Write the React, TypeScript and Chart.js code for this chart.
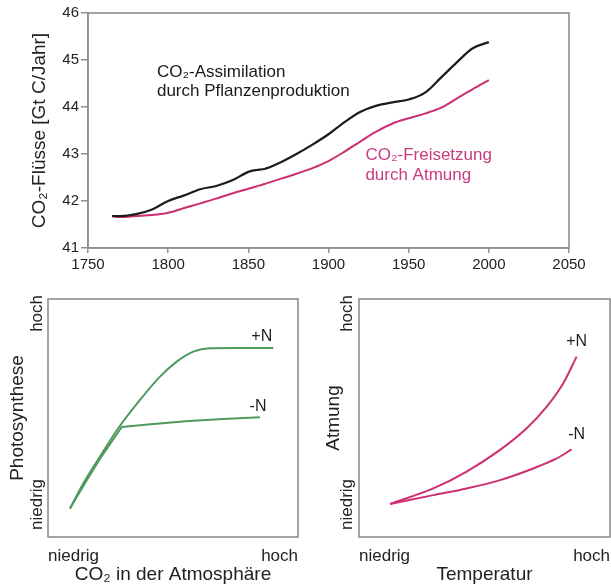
import React, { useEffect, useRef } from "react";
import { Chart, registerables } from "chart.js";
Chart.register(...registerables);

const FONT = "'Liberation Sans', Arial, Helvetica, sans-serif";
const AXIS = "#8f8f8f";
const INK = "#222222";
const BLACK_LINE = "#1c1c1c";
const PINK = "#cc2f72";
const PINK_TEXT = "#c93d80";
const GREEN = "#4e9a5e";

// ---- top chart: CO2 fluxes ----
const years = [1765, 1770, 1780, 1790, 1800, 1810, 1820, 1830, 1840, 1850, 1855, 1860, 1870, 1880, 1890, 1900, 1910, 1920, 1930, 1940, 1950, 1960, 1970, 1980, 1990, 2000];
const assimilation = [41.68, 41.68, 41.72, 41.82, 42.0, 42.12, 42.25, 42.32, 42.44, 42.62, 42.66, 42.68, 42.82, 43.0, 43.2, 43.42, 43.68, 43.9, 44.03, 44.1, 44.16, 44.3, 44.62, 44.95, 45.25, 45.38];
const respiration = [41.68, 41.66, 41.68, 41.7, 41.75, 41.85, 41.95, 42.05, 42.16, 42.26, 42.31, 42.36, 42.47, 42.58, 42.7, 42.85, 43.05, 43.27, 43.48, 43.65, 43.76, 43.86, 43.98, 44.18, 44.38, 44.57];
const yearTicks = [1750, 1800, 1850, 1900, 1950, 2000, 2050];
const fluxTicks = [41, 42, 43, 44, 45, 46];

// ---- bottom left: photosynthesis vs CO2 ----
const photoPlusNX = [8.8, 14.1, 20.8, 28.1, 36.8, 44.8, 51.5, 58.1, 64.8, 74.1, 90.1];
const photoPlusNY = [12.0, 22.5, 33.8, 45.7, 57.6, 67.4, 73.7, 77.9, 79.3, 79.4, 79.4];
const photoMinusNX = [8.8, 15.0, 21.5, 29.5, 40.0, 55.0, 70.0, 84.8];
const photoMinusNY = [12.0, 23.0, 34.0, 46.2, 47.3, 48.6, 49.6, 50.3];

// ---- bottom right: respiration vs temperature ----
const respPlusNX = [12.4, 29.6, 42.9, 56.2, 66.8, 74.8, 81.4, 86.7];
const respPlusNY = [13.9, 20.4, 27.5, 36.6, 45.7, 54.8, 64.6, 75.8];
const respMinusNX = [12.4, 29.6, 42.9, 56.2, 69.4, 78.8, 84.7];
const respMinusNY = [13.9, 17.6, 20.4, 23.9, 28.8, 33.0, 36.8];

const levelTicks = [0, 100];
const levelLabels = ["niedrig", "hoch"];

const pts = (xs: number[], ys: number[]) => xs.map((x, i) => ({ x, y: ys[i] }));

type Note = {
  text: string;
  x?: number;
  y: number;
  px?: number;
  dy?: number;
  color?: string;
  size?: number;
  align?: CanvasTextAlign;
  rot?: number;
};

const framePlugin = {
  id: "frame",
  beforeDatasetsDraw(chart: any) {
    const { ctx, chartArea } = chart;
    ctx.save();
    ctx.strokeStyle = AXIS;
    ctx.lineWidth = 1.6;
    ctx.strokeRect(chartArea.left, chartArea.top, chartArea.right - chartArea.left, chartArea.bottom - chartArea.top);
    ctx.restore();
  },
};

const makeNotes = (items: Note[]) => ({
  id: "notes",
  afterDatasetsDraw(chart: any) {
    const { ctx, chartArea } = chart;
    const xs = chart.scales.x;
    const ys = chart.scales.y;
    items.forEach((n) => {
      const px = n.px !== undefined ? chartArea.left + n.px : xs.getPixelForValue(n.x);
      const py = ys.getPixelForValue(n.y) + (n.dy || 0);
      ctx.save();
      ctx.translate(px, py);
      if (n.rot) ctx.rotate((n.rot * Math.PI) / 180);
      ctx.font = `${n.size || 16}px ${FONT}`;
      ctx.fillStyle = n.color || INK;
      ctx.textAlign = n.align || "left";
      ctx.textBaseline = "middle";
      ctx.fillText(n.text, 0, 0);
      ctx.restore();
    });
  },
});

function useChart(build: (c: HTMLCanvasElement) => Chart) {
  const ref = useRef<HTMLCanvasElement | null>(null);
  useEffect(() => {
    if (!ref.current) return;
    const chart = build(ref.current);
    return () => chart.destroy();
  }, []);
  return ref;
}

function FluxChart() {
  const ref = useChart(
    (c) =>
      new Chart(c, {
        type: "line",
        data: {
          datasets: [
            { data: pts(years, assimilation), borderColor: BLACK_LINE, borderWidth: 2.2, pointRadius: 0, cubicInterpolationMode: "monotone" },
            { data: pts(years, respiration), borderColor: PINK, borderWidth: 2, pointRadius: 0, cubicInterpolationMode: "monotone" },
          ],
        },
        options: {
          animation: false,
          responsive: false,
          layout: { padding: { top: 13, right: 42, left: 0, bottom: 0 } },
          plugins: { legend: { display: false }, tooltip: { enabled: false } },
          scales: {
            x: {
              type: "linear",
              min: 1750,
              max: 2050,
              afterBuildTicks: (s: any) => {
                s.ticks = yearTicks.map((v) => ({ value: v }));
              },
              afterFit: (s: any) => {
                s.height = 32;
              },
              ticks: { callback: (v: any) => String(v), font: { family: FONT, size: 15 }, color: INK, padding: 3, maxRotation: 0 },
              grid: { drawOnChartArea: false, drawTicks: true, tickLength: 5, color: AXIS, lineWidth: 1.5 },
              border: { display: true, color: AXIS, width: 1.6 },
            },
            y: {
              type: "linear",
              min: 41,
              max: 46,
              afterBuildTicks: (s: any) => {
                s.ticks = fluxTicks.map((v) => ({ value: v }));
              },
              afterFit: (s: any) => {
                s.width = 88;
              },
              ticks: { callback: (v: any) => String(v), font: { family: FONT, size: 15 }, color: INK, padding: 2 },
              grid: { drawOnChartArea: false, drawTicks: true, tickLength: 7, color: AXIS, lineWidth: 1.5 },
              border: { display: true, color: AXIS, width: 1.6 },
              title: {
                display: true,
                text: "CO₂-Flüsse [Gt C/Jahr]",
                font: { family: FONT, size: 19 },
                color: INK,
                padding: { top: 28, bottom: 0 },
              },
            },
          },
        },
        plugins: [
          framePlugin,
          makeNotes([
            { text: "CO₂-Assimilation", x: 1793, y: 44.74, size: 17, color: "#1a1a1a" },
            { text: "durch Pflanzenproduktion", x: 1793, y: 44.34, size: 17, color: "#1a1a1a" },
            { text: "CO₂-Freisetzung", x: 1923, y: 42.98, size: 17, color: PINK_TEXT },
            { text: "durch Atmung", x: 1923, y: 42.55, size: 17, color: PINK_TEXT },
          ]),
        ],
      } as any)
  );
  return <canvas ref={ref} width={611} height={280} style={{ position: "absolute", left: 0, top: 0 }} />;
}

type LevelProps = {
  left: number;
  width: number;
  yWidth: number;
  padRight: number;
  plus: { x: number; y: number }[];
  minus: { x: number; y: number }[];
  minusTension: number;
  color: string;
  xTitle: string;
  yTitle: string;
  yTitlePad: number;
  labelPx: number;
  plusAt: [number, number];
  minusAt: [number, number];
};

function LevelChart(p: LevelProps) {
  const ref = useChart(
    (c) =>
      new Chart(c, {
        type: "line",
        data: {
          datasets: [
            { data: p.plus, borderColor: p.color, borderWidth: 2, pointRadius: 0, cubicInterpolationMode: "monotone" },
            p.minusTension === 0
              ? { data: p.minus, borderColor: p.color, borderWidth: 2, pointRadius: 0, tension: 0, borderJoinStyle: "round" }
              : { data: p.minus, borderColor: p.color, borderWidth: 2, pointRadius: 0, cubicInterpolationMode: "monotone" },
          ],
        },
        options: {
          animation: false,
          responsive: false,
          layout: { padding: { top: 14, right: p.padRight, left: 0, bottom: 0 } },
          plugins: { legend: { display: false }, tooltip: { enabled: false } },
          scales: {
            x: {
              type: "linear",
              min: 0,
              max: 100,
              afterBuildTicks: (s: any) => {
                s.ticks = levelTicks.map((v) => ({ value: v }));
              },
              afterFit: (s: any) => {
                s.height = 51;
              },
              ticks: {
                callback: (v: any) => levelLabels[levelTicks.indexOf(v)],
                align: "inner",
                font: { family: FONT, size: 17 },
                color: INK,
                padding: 1,
                maxRotation: 0,
              },
              grid: { display: false },
              border: { display: false },
              title: {
                display: true,
                text: p.xTitle,
                font: { family: FONT, size: 19 },
                color: INK,
                padding: { top: 0, bottom: 2 },
              },
            },
            y: {
              type: "linear",
              min: 0,
              max: 100,
              afterFit: (s: any) => {
                s.width = p.yWidth;
              },
              ticks: { display: false },
              grid: { display: false },
              border: { display: false },
              title: {
                display: true,
                text: p.yTitle,
                font: { family: FONT, size: 19 },
                color: INK,
                padding: { top: p.yTitlePad, bottom: 0 },
              },
            },
          },
        },
        plugins: [
          framePlugin,
          makeNotes([
            { text: levelLabels[1], px: p.labelPx, y: levelTicks[1], dy: -4, rot: -90, align: "right", size: 17 },
            { text: levelLabels[0], px: p.labelPx, y: levelTicks[0], dy: -7, rot: -90, align: "left", size: 17 },
            { text: "+N", x: p.plusAt[0], y: p.plusAt[1], align: "center", size: 16 },
            { text: "-N", x: p.minusAt[0], y: p.minusAt[1], align: "center", size: 16 },
          ]),
        ],
      } as any)
  );
  return <canvas ref={ref} width={p.width} height={303} style={{ position: "absolute", left: p.left, top: 285 }} />;
}

export default function App() {
  return (
    <div style={{ position: "absolute", left: 0, top: 0, width: 611, height: 588, background: "#ffffff", overflow: "hidden" }}>
      <FluxChart />
      <LevelChart
        left={0}
        width={305}
        yWidth={48}
        padRight={7}
        plus={pts(photoPlusNX, photoPlusNY)}
        minus={pts(photoMinusNX, photoMinusNY)}
        minusTension={0}
        color={GREEN}
        xTitle="CO₂ in der Atmosphäre"
        yTitle="Photosynthese"
        yTitlePad={6}
        labelPx={-11}
        plusAt={[85.5, 84.2]}
        minusAt={[84, 55]}
      />
      <LevelChart
        left={305}
        width={306}
        yWidth={54}
        padRight={1}
        plus={pts(respPlusNX, respPlusNY)}
        minus={pts(respMinusNX, respMinusNY)}
        minusTension={1}
        color={PINK}
        xTitle="Temperatur"
        yTitle="Atmung"
        yTitlePad={17}
        labelPx={-12}
        plusAt={[86.7, 82.1]}
        minusAt={[86.7, 42.9]}
      />
    </div>
  );
}
